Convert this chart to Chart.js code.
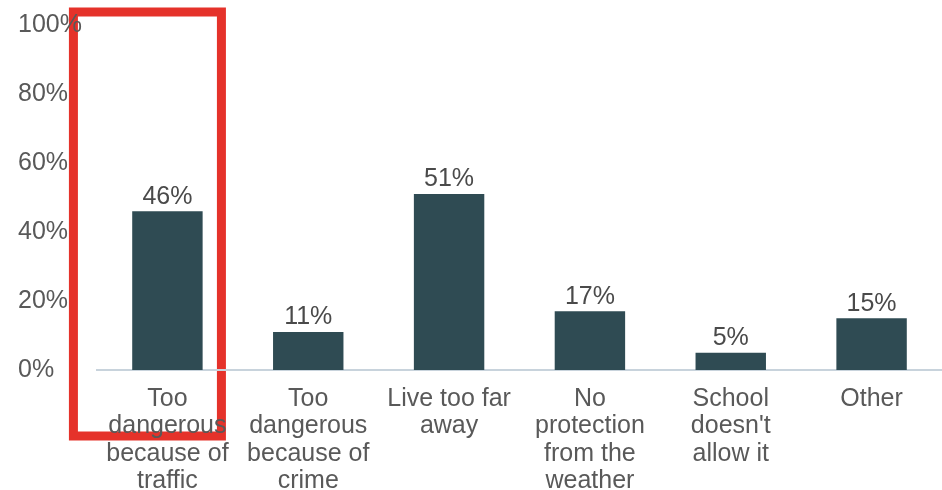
<!DOCTYPE html>
<html>
<head>
<meta charset="utf-8">
<script src="https://cdn.jsdelivr.net/npm/chart.js@4.4.1/dist/chart.umd.min.js"></script>
<style>
  html, body { margin: 0; padding: 0; background: #fff; }
  #wrap { width: 942px; height: 490px; }
</style>
</head>
<body>
<div id="wrap"><canvas id="myChart"></canvas></div>
<script>
const categories = [
    ['Too', 'dangerous', 'because of', 'traffic'],
    ['Too', 'dangerous', 'because of', 'crime'],
    ['Live too far', 'away'],
    ['No', 'protection', 'from the', 'weather'],
    ['School', "doesn't", 'allow it'],
    ['Other']
];
const shares = [46, 11, 51, 17, 5, 15];
const yTicks = [0, 20, 40, 60, 80, 100];
const highlightIndex = 0;

const textGrey = '#595959';
const font = 'Arial, "Liberation Sans", sans-serif';

// value labels above each bar
const barLabels = {
    id: 'barLabels',
    afterDatasetsDraw(chart) {
        const c = chart.ctx;
        const meta = chart.getDatasetMeta(0);
        c.save();
        c.font = '25px ' + font;
        c.fillStyle = '#4a4a4a';
        c.textAlign = 'center';
        c.textBaseline = 'bottom';
        meta.data.forEach(function (bar, i) {
            c.fillText(shares[i] + '%', bar.x, bar.y - 2);
        });
        c.restore();
    }
};

// red box around the highlighted category (drawn under the text)
const highlightBox = {
    id: 'highlightBox',
    beforeDraw(chart) {
        const c = chart.ctx;
        const x = chart.scales.x;
        const y = chart.scales.y;
        const cx = x.getPixelForValue(highlightIndex);
        const top = y.getPixelForValue(100) - 13;
        c.save();
        c.strokeStyle = '#e5322a';
        c.lineWidth = 9;
        c.strokeRect(cx - 94, top, 148, y.bottom + 66 - top);
        c.restore();
    }
};

const ctx = document.querySelector('#myChart').getContext('2d');
const myChart = new Chart(ctx, {
    type: 'bar',
    data: {
        labels: categories,
        datasets: [{
            data: shares,
            backgroundColor: '#2f4b53',
            barPercentage: 0.5,
            categoryPercentage: 1.0
        }]
    },
    options: {
        responsive: true,
        maintainAspectRatio: false,
        animation: false,
        layout: {
            padding: { left: 18, top: 25, right: 0, bottom: 0 }
        },
        plugins: {
            legend: { display: false },
            tooltip: { enabled: false }
        },
        scales: {
            x: {
                afterFit(axis) {
                    axis.height = 120;
                },
                grid: { display: false },
                border: { display: true, color: '#c8d3dc', width: 2 },
                ticks: {
                    color: textGrey,
                    font: { size: 25, family: font, lineHeight: 1.1 },
                    maxRotation: 0,
                    autoSkip: false,
                    padding: 7
                }
            },
            y: {
                min: 0,
                max: 100,
                afterBuildTicks(axis) {
                    axis.ticks = yTicks.map(v => ({ value: v }));
                },
                afterFit(axis) {
                    axis.width = 79;
                },
                grid: { display: false },
                border: { display: false },
                ticks: {
                    color: textGrey,
                    crossAlign: 'far',
                    font: { size: 25, family: font },
                    callback: v => v + '%'
                }
            }
        }
    },
    plugins: [barLabels, highlightBox]
});
</script>
</body>
</html>
